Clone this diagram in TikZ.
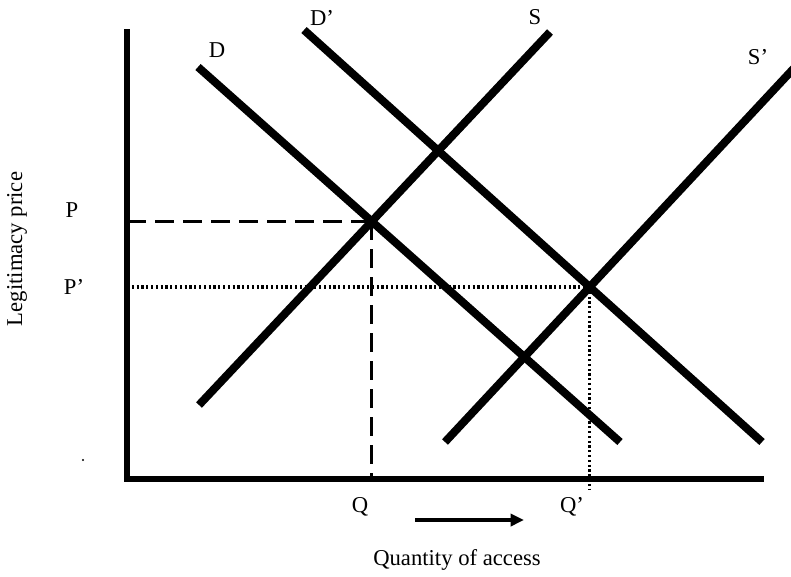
\documentclass[tikz,border=0pt]{standalone}
\usepackage{fontspec}
\setmainfont{Liberation Serif}
\usetikzlibrary{arrows.meta,intersections}

\tikzset{
  crv/.style={line width=6pt,color=black},
  ax/.style={line width=4.8pt,color=black,line join=miter},
  lbl/.style={font=\fontsize{17}{20}\selectfont,inner sep=0pt},
  dsh/.style={line width=2.4pt,dash pattern=on 14pt off 7pt},
  dts/.style={line width=3pt,dash pattern=on 1.6pt off 2pt},
  shf/.style={-{Triangle[length=10pt,width=9pt]},line width=3.2pt},
}

\begin{document}
\begin{tikzpicture}[x=0.75pt,y=-0.75pt]
  \useasboundingbox (0,0) rectangle (791,576);

  % -- Axes
  \coordinate (ytop) at (127,29);
  \coordinate (org)  at (127,479);
  \coordinate (xend) at (764,479);
  \draw[ax] (ytop) -- (org) -- (xend);

  % -- Demand and supply curves
  \coordinate (d1)  at (198,67);   \coordinate (d2)  at (620,442);
  \coordinate (dd1) at (304,30);   \coordinate (dd2) at (762,442);
  \coordinate (s1)  at (199,405);  \coordinate (s2)  at (550,32);
  \coordinate (ss1) at (445,442);  \coordinate (ss2) at (796,66);
  \draw[crv,name path=dem]  (d1)  -- (d2);
  \draw[crv,name path=demb] (dd1) -- (dd2);
  \draw[crv,name path=sup]  (s1)  -- (s2);
  \draw[crv,name path=supb] (ss1) -- (ss2);

  % -- Equilibria
  \path[name intersections={of=dem and sup,by=eqA}];
  \path[name intersections={of=demb and supb,by=eqB}];
  \draw[dsh] (eqA -| org) -- (eqA);
  \draw[dsh] (eqA) -- (eqA |- org);
  \draw[dts] (eqB -| org) -- (eqB);
  \draw[dts,line width=2.2pt] (eqB) -- ([yshift=-8pt]eqB |- org);

  % -- Labels
  \node[lbl] (lD)  at (217,50)  {D};
  \node[lbl] (lDb) at (322,18)  {D’};
  \node[lbl] (lS)  at (535,17)  {S};
  \node[lbl] (lSb) at (758,57)  {S’};
  \node[lbl] (lP)  at (72,210)  {P};
  \node[lbl] (lPb) at (74,287)  {P’};
  \node[lbl] (lQ)  at (360,507) {Q};
  \node[lbl] (lQb) at (572,507) {Q’};
  \node[lbl,rotate=90] (ylab) at (17,249) {Legitimacy price};
  \node[lbl] (xlab) at (457,560) {Quantity of access};

  % -- Shift arrow
  \coordinate (sh1) at (415,520);
  \coordinate (sh2) at (524,520);
  \draw[shf] (sh1) -- (sh2);

  \fill (83,460) circle (0.8pt);
\end{tikzpicture}
\end{document}
